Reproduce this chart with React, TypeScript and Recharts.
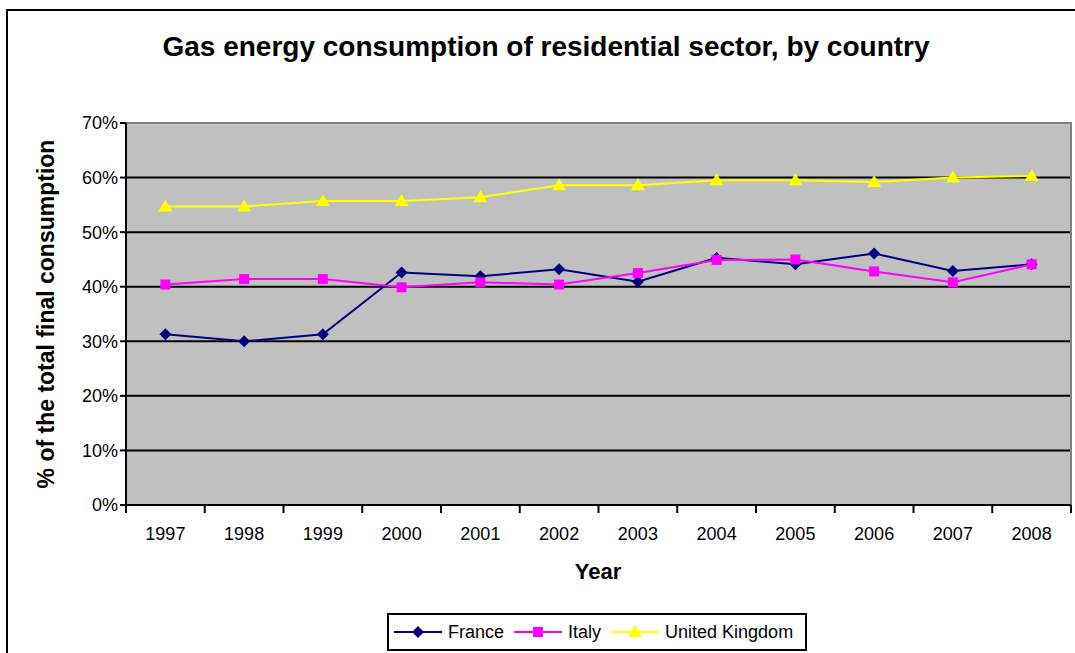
import { LineChart, Line, XAxis, YAxis, CartesianGrid, ReferenceArea } from "recharts";

const years = ["1997", "1998", "1999", "2000", "2001", "2002", "2003", "2004", "2005", "2006", "2007", "2008"];
const france = [31.3, 30.0, 31.3, 42.6, 41.9, 43.2, 40.9, 45.3, 44.1, 46.1, 42.9, 44.1];
const italy = [40.4, 41.4, 41.4, 39.9, 40.8, 40.4, 42.5, 44.9, 45.0, 42.8, 40.8, 44.1];
const uk = [54.7, 54.7, 55.7, 55.7, 56.4, 58.6, 58.6, 59.5, 59.5, 59.2, 60.0, 60.3];
const yTicks = [0, 10, 20, 30, 40, 50, 60, 70];

const data = years.map((year, i) => ({ year, france: france[i], italy: italy[i], uk: uk[i] }));

const FONT = '"Liberation Sans", Arial, sans-serif';
const NAVY = "#000080";
const MAGENTA = "#FF00FF";
const YELLOW = "#FFFF00";
const TICK_SIZE = 8;
const TICK_MARGIN = 14;

const Diamond = ({ cx, cy }: any) =>
  cx == null ? null : (
    <polygon points={`${cx},${cy - 6} ${cx + 6},${cy} ${cx},${cy + 6} ${cx - 6},${cy}`} fill={NAVY} />
  );

const Square = ({ cx, cy }: any) =>
  cx == null ? null : <rect x={cx - 5} y={cy - 5} width={10} height={10} fill={MAGENTA} />;

const Triangle = ({ cx, cy }: any) =>
  cx == null ? null : (
    <polygon points={`${cx},${cy - 7} ${cx + 7},${cy + 5} ${cx - 7},${cy + 5}`} fill={YELLOW} />
  );

// Excel style: tick marks sit between categories, labels in the middle
const YearTick = (props: any) => {
  const { x, y, payload, index, visibleTicksCount } = props;
  const half = payload?.offset || 39.4;
  const axisY = y - TICK_SIZE - TICK_MARGIN;
  const last = index === visibleTicksCount - 1;
  return (
    <g>
      <line x1={x - half} x2={x - half} y1={axisY} y2={axisY + TICK_SIZE} stroke="#000" strokeWidth={2} />
      {last && <line x1={x + half} x2={x + half} y1={axisY} y2={axisY + TICK_SIZE} stroke="#000" strokeWidth={2} />}
      <text x={x} y={y} dy="0.71em" textAnchor="middle" fontSize={18} fontFamily={FONT} fill="#000">
        {payload.value}
      </text>
    </g>
  );
};

const legendItems = [
  { name: "France", color: NAVY, shape: "diamond" },
  { name: "Italy", color: MAGENTA, shape: "square" },
  { name: "United Kingdom", color: YELLOW, shape: "triangle" },
];

function LegendIcon({ color, shape }: { color: string; shape: string }) {
  return (
    <svg width={48} height={20} style={{ display: "block", flex: "none" }}>
      <line x1={0} x2={48} y1={10} y2={10} stroke={color} strokeWidth={2} />
      {shape === "diamond" && <Diamond cx={24} cy={10} />}
      {shape === "square" && <Square cx={24} cy={10} />}
      {shape === "triangle" && <Triangle cx={24} cy={10} />}
    </svg>
  );
}

export default function App() {
  return (
    <div
      style={{
        position: "absolute",
        left: 0,
        top: 0,
        width: 1075,
        height: 653,
        overflow: "hidden",
        background: "#fff",
        fontFamily: FONT,
      }}
    >
      <div
        style={{
          position: "absolute",
          left: 6,
          top: 9,
          width: 1120,
          height: 700,
          border: "2px solid #000",
        }}
      />
      <div
        style={{
          position: "absolute",
          left: 0,
          width: 1092,
          top: 33,
          textAlign: "center",
          fontSize: 28,
          lineHeight: "28px",
          fontWeight: "bold",
        }}
      >
        Gas energy consumption of residential sector, by country
      </div>
      <div
        style={{
          position: "absolute",
          left: 46,
          top: 314,
          transform: "translate(-50%, -50%) rotate(-90deg)",
          whiteSpace: "nowrap",
          fontSize: 23,
          lineHeight: "23px",
          fontWeight: "bold",
        }}
      >
        % of the total final consumption
      </div>
      <div
        style={{
          position: "absolute",
          left: 598,
          top: 561,
          transform: "translateX(-50%)",
          fontSize: 22,
          lineHeight: "22px",
          fontWeight: "bold",
        }}
      >
        Year
      </div>

      <div style={{ position: "absolute", left: 0, top: 0 }}>
        <LineChart width={1075} height={653} data={data} margin={{ top: 123, right: 4, left: 66, bottom: 118 }}>
          <CartesianGrid vertical={false} fill="#C0C0C0" fillOpacity={1} stroke="#000" strokeWidth={2} />
          <ReferenceArea y1={0} y2={70} fill="none" stroke="#808080" strokeWidth={2} ifOverflow="extendDomain" />
          <XAxis
            dataKey="year"
            scale="band"
            height={30}
            interval={0}
            tickLine={false}
            tickSize={TICK_SIZE}
            tickMargin={TICK_MARGIN}
            axisLine={{ stroke: "#000", strokeWidth: 2 }}
            tick={<YearTick />}
          />
          <YAxis
            width={60}
            domain={[0, 70]}
            ticks={yTicks}
            interval={0}
            tickSize={6}
            tickMargin={2}
            tickFormatter={(v: number) => `${v}%`}
            axisLine={{ stroke: "#000", strokeWidth: 2 }}
            tickLine={{ stroke: "#000", strokeWidth: 2 }}
            tick={{ fill: "#000", fontSize: 18, fontFamily: FONT }}
          />
          <Line
            dataKey="france"
            name="France"
            stroke={NAVY}
            strokeWidth={2}
            dot={<Diamond />}
            activeDot={false}
            isAnimationActive={false}
          />
          <Line
            dataKey="italy"
            name="Italy"
            stroke={MAGENTA}
            strokeWidth={2}
            dot={<Square />}
            activeDot={false}
            isAnimationActive={false}
          />
          <Line
            dataKey="uk"
            name="United Kingdom"
            stroke={YELLOW}
            strokeWidth={2}
            dot={<Triangle />}
            activeDot={false}
            isAnimationActive={false}
          />
        </LineChart>
      </div>

      <div
        style={{
          position: "absolute",
          left: 387,
          top: 613,
          width: 420,
          height: 38,
          boxSizing: "border-box",
          border: "2px solid #000",
          display: "flex",
          alignItems: "center",
          paddingLeft: 5,
          fontSize: 18,
          whiteSpace: "nowrap",
          background: "#fff",
        }}
      >
        {legendItems.map((item) => (
          <div key={item.name} style={{ display: "flex", alignItems: "center", marginRight: 10, flex: "none" }}>
            <LegendIcon color={item.color} shape={item.shape} />
            <span style={{ marginLeft: 6 }}>{item.name}</span>
          </div>
        ))}
      </div>
    </div>
  );
}
